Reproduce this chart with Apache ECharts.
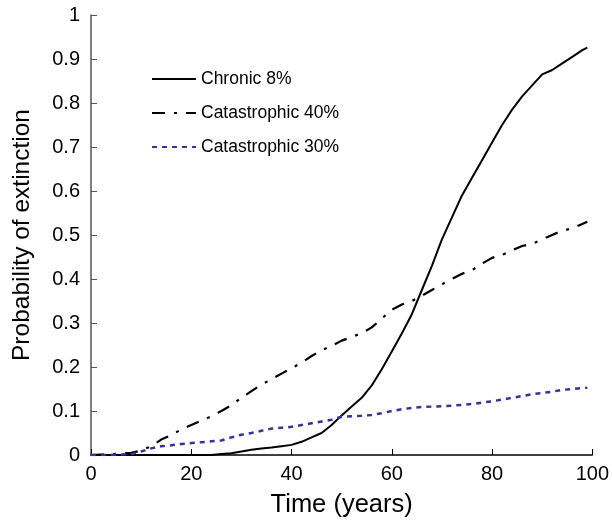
<!DOCTYPE html>
<html>
<head>
<meta charset="utf-8">
<script src="https://cdn.jsdelivr.net/npm/echarts@6/dist/echarts.min.js"></script>
<style>
  html, body { margin: 0; padding: 0; background: #fff; }
  #chart { width: 612px; height: 524px; }
</style>
</head>
<body>
<div id="chart"></div>
<script>
// years sampled every 2, last point at 99
var years = [0, 2, 4, 6, 8, 10, 12, 14, 16, 18, 20, 22, 24, 26, 28, 30, 32, 34, 36, 38,
  40, 42, 44, 46, 48, 50, 52, 54, 56, 58, 60, 62, 64, 66, 68, 70, 72, 74, 76, 78,
  80, 82, 84, 86, 88, 90, 92, 94, 96, 98, 99];

var chronic8 = [0, 0, 0, 0, 0, 0, 0, 0, 0, 0, 0, 0, 0, 0.002, 0.004, 0.008, 0.012, 0.015, 0.017, 0.02,
  0.023, 0.03, 0.04, 0.05, 0.068, 0.09, 0.11, 0.13, 0.158, 0.195, 0.235, 0.276, 0.32, 0.375, 0.43, 0.49, 0.54, 0.59, 0.63, 0.67,
  0.71, 0.75, 0.785, 0.815, 0.84, 0.865, 0.875, 0.89, 0.905, 0.92, 0.926];

var catastrophic40 = [0, 0.001, 0.002, 0.003, 0.005, 0.01, 0.02, 0.035, 0.045, 0.058, 0.068, 0.078, 0.088, 0.1, 0.113, 0.13, 0.145, 0.16, 0.172, 0.185,
  0.197, 0.21, 0.225, 0.238, 0.248, 0.26, 0.268, 0.277, 0.29, 0.31, 0.33, 0.342, 0.35, 0.362, 0.375, 0.388, 0.4, 0.412, 0.42, 0.435,
  0.448, 0.455, 0.465, 0.475, 0.48, 0.49, 0.5, 0.51, 0.515, 0.525, 0.53];

var catastrophic30 = [0, 0, 0, 0.001, 0.002, 0.008, 0.015, 0.02, 0.022, 0.025, 0.027, 0.029, 0.031, 0.033, 0.04, 0.046, 0.05, 0.055, 0.06, 0.062,
  0.064, 0.068, 0.072, 0.076, 0.08, 0.087, 0.088, 0.089, 0.091, 0.095, 0.1, 0.104, 0.107, 0.109, 0.11, 0.111, 0.112, 0.114, 0.116, 0.119,
  0.122, 0.126, 0.13, 0.134, 0.138, 0.141, 0.144, 0.148, 0.15, 0.152, 0.153];

var seriesNames = ['Chronic 8%', 'Catastrophic 40%', 'Catastrophic 30%'];

function pairs(ys) {
  return years.map(function (x, i) { return [x, ys[i]]; });
}

var chart = echarts.init(document.getElementById('chart'));
var font = 'Liberation Sans, Arial, sans-serif';

chart.setOption({
  animation: false,
  grid: { left: 91, right: 19, top: 15, bottom: 69 },
  legend: {
    data: seriesNames,
    orient: 'vertical',
    left: 151,
    top: 70,
    padding: 0,
    itemWidth: 44,
    itemHeight: 14,
    itemGap: 16,
    itemStyle: { opacity: 0 },
    textStyle: { fontFamily: font, fontSize: 17.5, color: '#000' }
  },
  xAxis: {
    type: 'value',
    min: 0, max: 100, interval: 20,
    name: 'Time (years)',
    nameLocation: 'middle',
    nameGap: 37,
    nameTextStyle: { fontFamily: font, fontSize: 25.5, color: '#000' },
    axisLine: { lineStyle: { color: '#000', width: 1.5 } },
    axisTick: { inside: true, length: 6, lineStyle: { color: '#000' } },
    axisLabel: { fontFamily: font, fontSize: 20, color: '#000', margin: 9 },
    splitLine: { show: false }
  },
  yAxis: {
    type: 'value',
    min: 0, max: 1, interval: 0.1,
    name: 'Probability of extinction',
    nameLocation: 'middle',
    nameGap: 56,
    nameTextStyle: { fontFamily: font, fontSize: 24.5, color: '#000' },
    axisLine: { show: true, lineStyle: { color: '#555', width: 1.5 } },
    axisTick: { show: true, inside: true, length: 6, lineStyle: { color: '#555' } },
    axisLabel: { fontFamily: font, fontSize: 20, color: '#000', margin: 11 },
    splitLine: { show: false }
  },
  series: [
    {
      name: seriesNames[0], type: 'line', symbol: 'none',
      data: pairs(chronic8),
      lineStyle: { color: '#000', width: 2 },
      itemStyle: { color: '#000' }
    },
    {
      name: seriesNames[1], type: 'line', symbol: 'none',
      data: pairs(catastrophic40),
      lineStyle: { color: '#000', width: 2.2, type: [13, 9, 3, 9] },
      itemStyle: { color: '#000' }
    },
    {
      name: seriesNames[2], type: 'line', symbol: 'none',
      data: pairs(catastrophic30),
      lineStyle: { color: '#333399', width: 2.5, type: [5, 5] },
      itemStyle: { color: '#333399' }
    }
  ]
});
</script>
</body>
</html>
